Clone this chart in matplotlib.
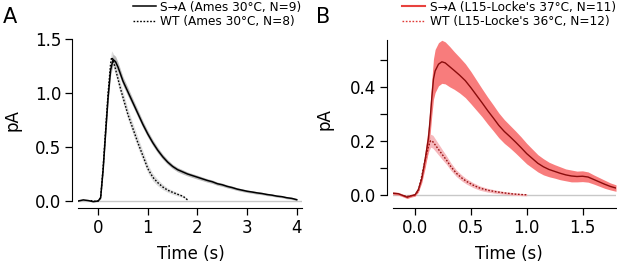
import matplotlib
matplotlib.use("Agg")
import matplotlib.pyplot as plt
from matplotlib.lines import Line2D
import numpy as np

plt.rcParams['font.family'] = ['DejaVu Sans']

# ---- panel A data (Ames 30C) ----
tA_sa = [-0.4, -0.3, -0.2, -0.1, 0.0, 0.05, 0.1, 0.15, 0.2, 0.25, 0.3, 0.35, 0.4,
         0.5, 0.6, 0.7, 0.8, 0.9, 1.0, 1.1, 1.2, 1.3, 1.4, 1.5, 1.6, 1.7, 1.8, 1.9,
         2.0, 2.1, 2.2, 2.3, 2.4, 2.5, 2.6, 2.7, 2.8, 2.9, 3.0, 3.1, 3.2, 3.3, 3.4,
         3.5, 3.6, 3.7, 3.8, 3.9, 4.0]
yA_sa = [0.0, 0.01, 0.004, -0.006, 0.0, 0.03, 0.29, 0.63, 0.96, 1.21, 1.31, 1.29, 1.24,
         1.11, 1.01, 0.91, 0.81, 0.71, 0.62, 0.54, 0.47, 0.41, 0.36, 0.32, 0.29, 0.27, 0.25, 0.235,
         0.22, 0.205, 0.19, 0.178, 0.16, 0.15, 0.135, 0.124, 0.11, 0.10, 0.09, 0.083, 0.075, 0.069, 0.06,
         0.054, 0.045, 0.04, 0.03, 0.024, 0.012]
eA_sa = [0.005, 0.005, 0.005, 0.005, 0.005, 0.01, 0.03, 0.04, 0.05, 0.05, 0.05, 0.05, 0.045,
         0.04, 0.04, 0.035, 0.035, 0.032, 0.03, 0.028, 0.026, 0.024, 0.022, 0.02, 0.02, 0.02, 0.018, 0.018,
         0.018, 0.017, 0.016, 0.016, 0.015, 0.015, 0.014, 0.014, 0.013, 0.013, 0.012, 0.012, 0.012, 0.011, 0.011,
         0.01, 0.01, 0.01, 0.01, 0.01, 0.01]

tA_wt = [-0.15, -0.1, 0.0, 0.05, 0.1, 0.15, 0.2, 0.25, 0.27, 0.3, 0.35, 0.4, 0.45, 0.5,
         0.6, 0.7, 0.8, 0.9, 1.0, 1.1, 1.2, 1.3, 1.4, 1.5, 1.6, 1.7, 1.75, 1.8]
yA_wt = [0.004, -0.004, 0.0, 0.03, 0.31, 0.66, 1.0, 1.27, 1.33, 1.31, 1.22, 1.13, 1.04, 0.96,
         0.80, 0.67, 0.54, 0.42, 0.30, 0.22, 0.17, 0.13, 0.10, 0.08, 0.062, 0.045, 0.03, 0.01]
eA_wt = [0.005, 0.005, 0.005, 0.01, 0.03, 0.05, 0.06, 0.06, 0.06, 0.06, 0.06, 0.055, 0.055, 0.055,
         0.05, 0.05, 0.05, 0.045, 0.04, 0.035, 0.03, 0.025, 0.02, 0.018, 0.015, 0.012, 0.01, 0.01]

# ---- panel B data (L15-Locke's) ----
tB_sa = [-0.2, -0.15, -0.1, -0.07, -0.04, 0.0, 0.03, 0.06, 0.09, 0.12, 0.135, 0.15, 0.165, 0.18,
         0.21, 0.24, 0.27, 0.31, 0.35, 0.4, 0.45, 0.5, 0.55, 0.6, 0.65, 0.7, 0.75, 0.8, 0.85,
         0.9, 0.95, 1.0, 1.05, 1.1, 1.15, 1.2, 1.25, 1.3, 1.35, 1.4, 1.45, 1.5, 1.55, 1.6,
         1.65, 1.7, 1.75, 1.8]
yB_sa = [0.006, 0.004, -0.004, -0.009, -0.004, 0.0, 0.02, 0.06, 0.13, 0.21, 0.28, 0.36, 0.43, 0.46,
         0.485, 0.494, 0.49, 0.476, 0.462, 0.444, 0.424, 0.398, 0.37, 0.342, 0.313, 0.286, 0.258, 0.235, 0.216,
         0.196, 0.175, 0.153, 0.135, 0.117, 0.104, 0.094, 0.087, 0.08, 0.074, 0.07, 0.068, 0.069, 0.066, 0.057,
         0.048, 0.039, 0.031, 0.025]
eB_sa = [0.005, 0.005, 0.005, 0.005, 0.005, 0.005, 0.008, 0.015, 0.03, 0.045, 0.055, 0.065, 0.075, 0.08,
         0.08, 0.08, 0.078, 0.075, 0.07, 0.066, 0.063, 0.06, 0.056, 0.052, 0.05, 0.048, 0.046, 0.044, 0.042,
         0.041, 0.04, 0.038, 0.035, 0.032, 0.03, 0.027, 0.025, 0.024, 0.022, 0.022, 0.02, 0.02, 0.019, 0.017,
         0.016, 0.015, 0.013, 0.012]

tB_wt = [-0.1, -0.07, -0.03, 0.0, 0.03, 0.06, 0.09, 0.12, 0.14, 0.16, 0.19, 0.22, 0.25, 0.28,
         0.32, 0.37, 0.42, 0.46, 0.52, 0.58, 0.65, 0.73, 0.8, 0.88, 0.95, 1.0]
yB_wt = [-0.004, -0.006, -0.003, 0.0, 0.015, 0.07, 0.13, 0.18, 0.201, 0.197, 0.18, 0.163, 0.146, 0.13,
         0.105, 0.08, 0.062, 0.05, 0.036, 0.025, 0.017, 0.011, 0.007, 0.003, 0.001, 0.0]
eB_wt = [0.003, 0.003, 0.003, 0.003, 0.006, 0.012, 0.018, 0.022, 0.024, 0.024, 0.022, 0.02, 0.018, 0.016,
         0.014, 0.012, 0.011, 0.01, 0.009, 0.008, 0.007, 0.006, 0.005, 0.005, 0.004, 0.004]

labels_A = ["S\u2192A (Ames 30\u00b0C, N=9)", "WT (Ames 30\u00b0C, N=8)"]
labels_B = ["S\u2192A (L15-Locke's 37\u00b0C, N=11)", "WT (L15-Locke's 36\u00b0C, N=12)"]


def band(ax, t, y, e, color):
    t = np.array(t); y = np.array(y); e = np.array(e)
    ax.fill_between(t, y - e, y + e, color=color, lw=0, zorder=2)


def style(ax, xlim, ylim, ytop, xticks, yticks, off):
    ax.set_xlim(*xlim)
    ax.set_ylim(ylim, ytop)
    for s in ['top', 'right']:
        ax.spines[s].set_visible(False)
    ax.spines['left'].set_position(('outward', off))
    ax.spines['left'].set_bounds(0, ytop)
    ax.set_xticks(xticks)
    ax.set_yticks(yticks)
    ax.tick_params(axis='both', direction='out', length=5, width=0.9,
                   labelsize=12, pad=3)
    ax.axhline(0, color='#c8c8c8', lw=1.0, zorder=1)


fig = plt.figure(figsize=(6.17, 2.65), dpi=100)
axA = fig.add_axes([0.1269, 0.2151, 0.3621, 0.6377])
axB = fig.add_axes([0.6365, 0.2151, 0.3619, 0.634])

# panel A
band(axA, tA_wt, yA_wt, eA_wt, '#dedede')
band(axA, tA_sa, yA_sa, eA_sa, '#bcbcbc')
axA.plot(tA_sa, yA_sa, color='black', lw=1.1, zorder=4)
axA.plot(tA_wt, yA_wt, color='black', lw=1.0, ls=(0, (1.2, 1.2)), zorder=4)
style(axA, (-0.4, 4.1), -0.065, 1.5, [0, 1, 2, 3, 4], [0.0, 0.5, 1.0, 1.5], 4.3)
axA.set_yticklabels(['0.0', '0.5', '1.0', '1.5'])

# panel B
band(axB, tB_wt, yB_wt, eB_wt, '#f6b8bc')
band(axB, tB_sa, yB_sa, eB_sa, '#f87c7c')
axB.plot(tB_sa, yB_sa, color='#8a0c0c', lw=1.0, zorder=4)
axB.plot(tB_wt, yB_wt, color='#9a1212', lw=1.0, ls=(0, (1.2, 1.2)), zorder=4)
style(axB, (-0.2, 1.8), -0.049, 0.575, [0.0, 0.5, 1.0, 1.5], [0.0, 0.2, 0.4], 3.9)
axB.set_xticklabels(['0.0', '0.5', '1.0', '1.5'])
axB.set_yticks([0.1, 0.3, 0.5], minor=True)
axB.tick_params(axis='y', which='minor', direction='out', length=5, width=0.9)

for ax, lx, ly, tx in [(axA, -0.252, 0.52, 0.504), (axB, -0.267, 0.527, 0.521)]:
    ax.set_ylabel('pA', fontsize=12)
    ax.yaxis.set_label_coords(lx, ly)
    ax.set_xlabel('Time (s)', fontsize=12, va='top')
    ax.xaxis.set_label_coords(tx, -0.22)

# legends
hA = [Line2D([], [], color='black', lw=1.1),
      Line2D([], [], color='black', lw=1.0, ls=(0, (1.2, 1.2)))]
hB = [Line2D([], [], color='#e8423e', lw=1.5),
      Line2D([], [], color='#e03a36', lw=1.0, ls=(0, (1.2, 1.2)))]
for ax, h, lab, xr in [(axA, hA, labels_A, 0.49), (axB, hB, labels_B, 0.999)]:
    fig.legend(h, lab, loc='upper right', bbox_to_anchor=(xr, 1.0),
               bbox_transform=fig.transFigure, frameon=False, fontsize=8.7,
               handlelength=1.9, handletextpad=0.35, labelspacing=0.12,
               borderpad=0.05, borderaxespad=0)

fig.text(0.004, 0.915, 'A', fontsize=15, va='baseline')
fig.text(0.512, 0.915, 'B', fontsize=15, va='baseline')

fig.savefig('out.png', dpi=100)
